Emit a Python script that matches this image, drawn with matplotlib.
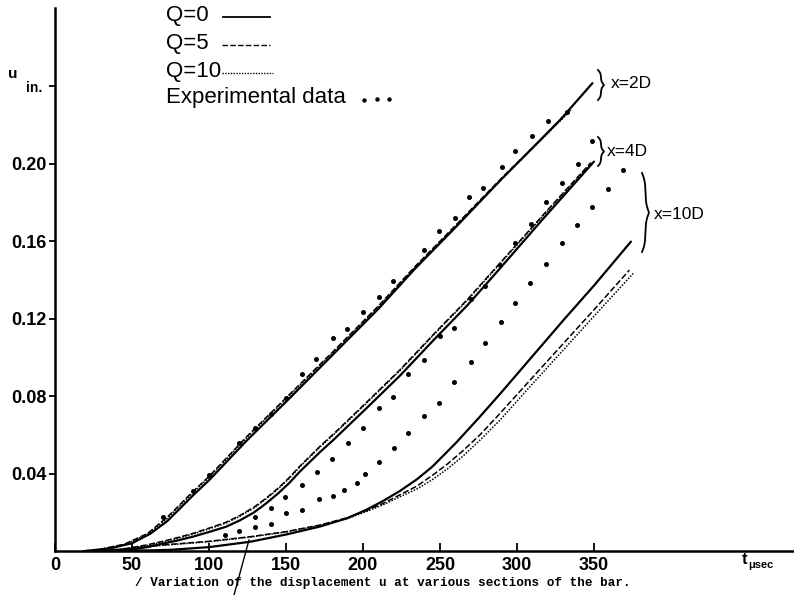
import numpy as np
import matplotlib
matplotlib.use('Agg')
import matplotlib.pyplot as plt
from matplotlib.lines import Line2D

plt.rcParams['font.family'] = ['Liberation Sans', 'DejaVu Sans']

W, H = 794, 595

# ---- curves (t in microseconds, u in inches) ----
t_2d_q0 = [20, 35, 50, 62, 73, 90, 100, 124.5, 150, 180, 210, 234, 260, 290, 310, 328, 349]
u_2d_q0 = [0, 0.0012, 0.004, 0.009, 0.0155, 0.029, 0.0365, 0.057, 0.077, 0.101, 0.125, 0.1459,
           0.167, 0.192, 0.208, 0.2225, 0.2415]
t_2d_q5 = [18, 30, 45, 60, 73, 90, 100, 124.5, 150, 180, 210, 234, 260, 290, 310, 335]
u_2d_q5 = [0, 0.001, 0.0035, 0.009, 0.0175, 0.031, 0.0385, 0.059, 0.079, 0.1025, 0.1265, 0.147,
           0.168, 0.1925, 0.208, 0.228]
t_2d_q10 = [18, 30, 45, 60, 73, 90, 100, 124.5, 150, 180, 210, 234, 260, 290, 310, 335]
u_2d_q10 = [0, 0.001, 0.0033, 0.0085, 0.017, 0.0305, 0.038, 0.0585, 0.0785, 0.102, 0.126, 0.1465,
            0.1675, 0.192, 0.2078, 0.2275]

t_4d_q0 = [40, 50, 60, 70, 80, 90, 100, 111, 120, 129, 137, 145, 152, 159, 172, 181, 202, 224,
           246, 268, 288, 317, 350]
u_4d_q0 = [0, 0.0008, 0.002, 0.0038, 0.0055, 0.0075, 0.0098, 0.0125, 0.0158, 0.0198, 0.0245,
           0.0298, 0.035, 0.041, 0.051, 0.0575, 0.0735, 0.0905, 0.109, 0.127, 0.145, 0.1715, 0.201]
t_4d_q5 = [28, 40, 50, 60, 70, 80, 90, 100, 111, 120, 129, 137, 145, 152, 159, 172, 181, 202,
           224, 246, 268, 288, 317, 348]
u_4d_q5 = [0, 0.0006, 0.0018, 0.0032, 0.005, 0.007, 0.0092, 0.0118, 0.0148, 0.0183, 0.0225,
           0.0272, 0.0325, 0.0378, 0.0438, 0.054, 0.0605, 0.0765, 0.0935, 0.112, 0.13, 0.1478,
           0.1735, 0.2005]
t_4d_q10 = [28, 40, 50, 60, 70, 80, 90, 100, 111, 120, 129, 137, 145, 152, 159, 172, 181, 202,
            224, 246, 268, 288, 317, 348]
u_4d_q10 = [0, 0.0005, 0.0015, 0.0028, 0.0046, 0.0066, 0.0088, 0.0114, 0.0144, 0.0179, 0.0221,
            0.0268, 0.0321, 0.0374, 0.0434, 0.0536, 0.0601, 0.0761, 0.0931, 0.1116, 0.1296,
            0.1474, 0.1731, 0.2]

t_10d_q0 = [40, 60, 75, 100, 127, 150, 172, 190, 202, 213, 224, 235, 245, 260, 275, 290, 310,
            330, 350, 374]
u_10d_q0 = [0, 0.0003, 0.0006, 0.002, 0.0048, 0.0085, 0.0126, 0.017, 0.0212, 0.0258, 0.031,
            0.037, 0.0435, 0.0555, 0.0685, 0.082, 0.1005, 0.119, 0.137, 0.1597]
t_10d_q5 = [20, 45, 68, 100, 127, 150, 172, 190, 202, 213, 224, 235, 245, 255, 265, 276, 287,
            310, 330, 350, 373]
u_10d_q5 = [0, 0.001, 0.003, 0.005, 0.0074, 0.010, 0.0134, 0.0172, 0.0208, 0.0245, 0.029,
            0.0335, 0.039, 0.045, 0.0518, 0.06, 0.0693, 0.0895, 0.107, 0.1245, 0.145]
t_10d_q10 = [20, 45, 68, 100, 127, 150, 172, 190, 202, 213, 224, 235, 245, 255, 265, 277, 289,
             310, 330, 350, 375.5]
u_10d_q10 = [0, 0.0009, 0.0028, 0.0048, 0.0072, 0.0098, 0.0132, 0.0168, 0.0203, 0.0238, 0.028,
             0.032, 0.0368, 0.0425, 0.049, 0.058, 0.0676, 0.0862, 0.1037, 0.1212, 0.1433]

# ---- experimental points ----
t_2d_exp = [70, 89.4, 100.2, 119.7, 129.9, 140, 150, 160.6, 169.5, 180.7, 189.8, 200.2, 210.6,
            219.3, 239.6, 249.6, 259.7, 269, 278, 290, 299, 310, 320.3, 332.3]
u_2d_exp = [0.0177, 0.0311, 0.0392, 0.0556, 0.0633, 0.0705, 0.0788, 0.0914, 0.0989, 0.1098,
            0.1146, 0.1235, 0.1309, 0.1395, 0.1553, 0.1652, 0.1717, 0.1829, 0.1875, 0.1983,
            0.2065, 0.2142, 0.2221, 0.2267]
t_4d_exp = [130, 140, 149.4, 160.3, 170, 179.7, 190.3, 199.8, 210.5, 219.5, 229.5, 239.6, 250,
            259, 270, 279, 288.9, 299, 309, 318.8, 329, 339.4, 348.5]
u_4d_exp = [0.0177, 0.022, 0.0277, 0.0339, 0.041, 0.0476, 0.056, 0.0633, 0.074, 0.0797, 0.0912,
            0.0986, 0.1108, 0.1153, 0.1303, 0.1366, 0.1474, 0.1588, 0.169, 0.1803, 0.1899, 0.2,
            0.2115]
t_10d_exp = [110.4, 119.7, 130, 140.5, 150, 160.4, 171.4, 180.5, 187.8, 195.9, 201.3, 210.4,
             219.9, 229.5, 239.6, 249.6, 259.3, 269.9, 279, 289.6, 299, 308.4, 318.8, 329,
             339.2, 348.9, 359.3, 368.6]
u_10d_exp = [0.0083, 0.0103, 0.0126, 0.0139, 0.0198, 0.021, 0.0266, 0.0285, 0.0314, 0.0352,
             0.04, 0.0458, 0.0534, 0.0611, 0.0697, 0.0766, 0.0874, 0.0977, 0.1075, 0.118,
             0.1282, 0.1385, 0.148, 0.1588, 0.1683, 0.1777, 0.1871, 0.1966]

x_ticks = [0, 50, 100, 150, 200, 250, 300, 350]
y_ticks = [0.04, 0.08, 0.12, 0.16, 0.20, 0.24]
y_ticklabels = ['0.04', '0.08', '0.12', '0.16', '0.20', '']

DASH = (0, (4, 1.6))
DOT = (0, (1, 1))


def fx(px):
    return px / W


def fy(py):
    return 1 - py / H


def fig_line(fig, xs, ys, **kw):
    xs = np.asarray(xs, dtype=float)
    ys = np.asarray(ys, dtype=float)
    fig.add_artist(Line2D(fx(xs), fy(ys), transform=fig.transFigure, **kw))


def brace(fig, xp, ytop, ybot, w, beta=9):
    # right-facing curly brace in pixel coords
    s = np.linspace(0, 1, 80)
    half = 1 / (1 + np.exp(-beta * s)) + 1 / (1 + np.exp(-beta * (s - 1)))
    full = np.concatenate([half, half[::-1]])
    ys = np.linspace(ytop, ybot, full.size)
    xs = xp + (full - 0.5) * w
    fig_line(fig, xs, ys, color='black', lw=1.3)


fig = plt.figure(figsize=(W / 100, H / 100), dpi=100)
ax = fig.add_axes([fx(55), 44 / H, (W - 55) / W, 543 / H])
ax.set_xlim(0, 479.9)
ax.set_ylim(0, 0.2803)

for s in ['top', 'right']:
    ax.spines[s].set_visible(False)
for s in ['left', 'bottom']:
    ax.spines[s].set_linewidth(1.8)

ax.set_xticks(x_ticks)
ax.set_xticklabels([str(v) for v in x_ticks])
ax.set_yticks(y_ticks)
ax.set_yticklabels(y_ticklabels)
ax.tick_params(axis='x', direction='in', length=6, width=1.3, pad=4, labelsize=13)
ax.tick_params(axis='y', direction='out', length=4, width=1.3, pad=2, labelsize=13)
for lab in ax.get_xticklabels() + ax.get_yticklabels():
    lab.set_fontweight('bold')

curves = [
    (t_2d_q0, u_2d_q0, '-', 1.6), (t_2d_q5, u_2d_q5, DASH, 1.1), (t_2d_q10, u_2d_q10, DOT, 1.1),
    (t_4d_q0, u_4d_q0, '-', 1.6), (t_4d_q5, u_4d_q5, DASH, 1.1), (t_4d_q10, u_4d_q10, DOT, 1.1),
    (t_10d_q0, u_10d_q0, '-', 1.6), (t_10d_q5, u_10d_q5, DASH, 1.1),
    (t_10d_q10, u_10d_q10, DOT, 1.1),
]
for t, u, ls, lw in curves:
    ax.plot(t, u, color='black', linestyle=ls, lw=lw, solid_capstyle='round')

for t, u in [(t_2d_exp, u_2d_exp), (t_4d_exp, u_4d_exp), (t_10d_exp, u_10d_exp)]:
    ax.plot(t, u, 'o', color='black', markersize=3.6, markeredgewidth=0)

# legend drawn by hand, as in the original
fig.text(fx(166), fy(15), 'Q=0', fontsize=16, va='center', ha='left')
fig.text(fx(166), fy(43), 'Q=5', fontsize=16, va='center', ha='left')
fig.text(fx(166), fy(71), 'Q=10', fontsize=16, va='center', ha='left')
fig.text(fx(166), fy(98), 'Experimental data', fontsize=16, va='center', ha='left')
fig_line(fig, [223, 270], [17, 17], color='black', lw=1.3)
fig_line(fig, [222, 270], [45, 45], color='black', lw=1.0, linestyle=DASH)
fig_line(fig, [222, 273], [73, 73], color='black', lw=1.0, linestyle=DOT)
fig.add_artist(Line2D(fx(np.array([364, 377, 389])), fy(np.array([100, 99, 99])),
                      transform=fig.transFigure, linestyle='none', marker='o', markersize=3.2,
                      color='black', markeredgewidth=0))

# section braces and labels
brace(fig, 598, 70, 100, 6)
fig.text(fx(611), fy(84), 'x=2D', fontsize=12.5, va='center', ha='left')
brace(fig, 598, 137, 166, 6)
fig.text(fx(607), fy(151), 'x=4D', fontsize=12.5, va='center', ha='left')
brace(fig, 642, 173, 252, 7)
fig.text(fx(654), fy(214), 'x=10D', fontsize=12.5, va='center', ha='left')

# axis labels
fig.text(fx(13), fy(74), 'u', fontsize=11, fontweight='bold', va='center', ha='center')
fig.text(fx(34), fy(88), 'in.', fontsize=10, fontweight='bold', va='center', ha='center')
fig.text(fx(745), fy(559), 't', fontsize=12, fontweight='bold', va='center', ha='center')
fig.text(fx(761), fy(565), 'μsec', fontsize=8, fontweight='bold', va='center', ha='center')

# caption and the stray pen stroke through it
fig.text(fx(135), fy(583), '/ Variation of the displacement u at various sections of the bar.',
         fontsize=9.1, family=['Liberation Mono', 'DejaVu Sans Mono'], fontweight='bold',
         va='center', ha='left')
fig_line(fig, [249, 234], [540, 595], color='black', lw=1.0)

fig.savefig('out.png', dpi=100)
